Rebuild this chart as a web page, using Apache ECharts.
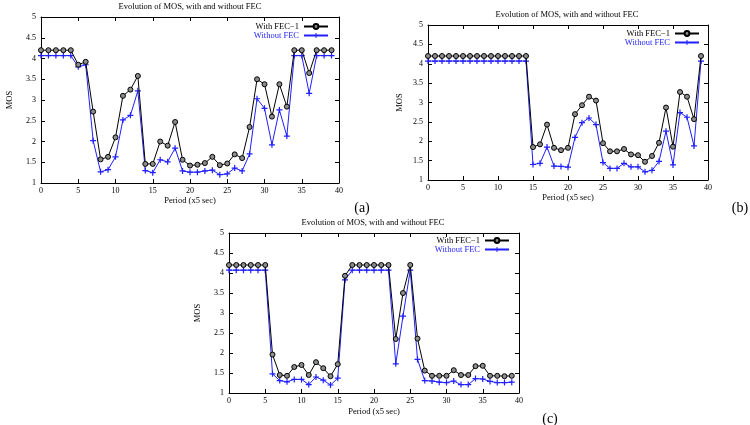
<!DOCTYPE html>
<html>
<head>
<meta charset="utf-8">
<script src="https://cdn.jsdelivr.net/npm/echarts@6/dist/echarts.min.js"></script>
<style>
  html, body { margin: 0; padding: 0; background: #fff; }
  #mos-chart { width: 750px; height: 425px; }
</style>
</head>
<body>
<div id="mos-chart"></div>
<script>
// MOS per period (x5 sec), 40 periods each
const fecA = [4.2, 4.2, 4.2, 4.2, 4.2, 3.85, 3.92, 2.72, 1.57, 1.63,
  2.1, 3.1, 3.25, 3.58, 1.46, 1.46, 2.0, 1.9, 2.47, 1.56,
  1.42, 1.44, 1.48, 1.63, 1.43, 1.47, 1.69, 1.6, 2.35, 3.5,
  3.38, 2.6, 3.38, 2.84, 4.2, 4.2, 3.65, 4.2, 4.2, 4.2]
const noFecA = [4.07, 4.07, 4.07, 4.07, 4.07, 3.8, 3.85, 2.02, 1.27, 1.32,
  1.63, 2.52, 2.63, 3.22, 1.3, 1.25, 1.56, 1.51, 1.84, 1.29,
  1.26, 1.26, 1.29, 1.31, 1.2, 1.22, 1.36, 1.29, 1.7, 3.03,
  2.8, 1.92, 2.76, 2.13, 4.07, 4.07, 3.16, 4.07, 4.07, 4.07]

const fecB = [4.2, 4.2, 4.2, 4.2, 4.2, 4.2, 4.2, 4.2, 4.2, 4.2,
  4.2, 4.2, 4.2, 4.2, 4.2, 1.85, 1.92, 2.43, 1.83, 1.77,
  1.83, 2.7, 2.93, 3.15, 3.05, 1.95, 1.74, 1.74, 1.8, 1.66,
  1.64, 1.47, 1.62, 1.96, 2.87, 1.86, 3.27, 3.15, 2.57, 4.2]
const noFecB = [4.07, 4.07, 4.07, 4.07, 4.07, 4.07, 4.07, 4.07, 4.07, 4.07,
  4.07, 4.07, 4.07, 4.07, 4.07, 1.4, 1.43, 1.85, 1.36, 1.35,
  1.33, 2.1, 2.48, 2.6, 2.43, 1.45, 1.3, 1.3, 1.43, 1.34,
  1.34, 1.21, 1.25, 1.48, 2.26, 1.39, 2.74, 2.62, 1.88, 4.07]

const fecC = [4.2, 4.2, 4.2, 4.2, 4.2, 4.2, 1.96, 1.45, 1.43, 1.65,
  1.7, 1.45, 1.77, 1.62, 1.42, 1.72, 3.93, 4.2, 4.2, 4.2,
  4.2, 4.2, 4.2, 2.35, 3.5, 4.2, 2.36, 1.56, 1.43, 1.43,
  1.43, 1.57, 1.45, 1.45, 1.67, 1.68, 1.43, 1.43, 1.42, 1.43]
const noFecC = [4.07, 4.07, 4.07, 4.07, 4.07, 4.07, 1.48, 1.31, 1.28, 1.34,
  1.34, 1.21, 1.4, 1.32, 1.2, 1.37, 3.83, 4.07, 4.07, 4.07,
  4.07, 4.07, 4.07, 1.73, 2.92, 4.07, 1.84, 1.31, 1.3, 1.27,
  1.26, 1.3, 1.21, 1.21, 1.36, 1.35, 1.29, 1.26, 1.26, 1.27]

const seriesNames = ['With FEC\u22121', 'Without FEC']
const panelTitle = 'Evolution of MOS, with and without FEC'
const xName = 'Period (x5 sec)'
const yName = 'MOS'
const panelLetters = ['(a)', '(b)', '(c)']

const FONT = '"Liberation Serif", "DejaVu Serif", serif'
const BLUE = '#1f1fff'
const PLUS = 'path://M4,0H6V4H10V6H6V10H4V6H0V4H4Z'

// panel boxes: plot area in pixels
const panels = [
  { left: 41, top: 17, width: 298, height: 166, data: [fecA, noFecA], yGap: 27, xGap: 13,
    title: [190, 7], legend: { right: 421, top: 22 }, letter: [362, 208] },
  { left: 428, top: 25, width: 280, height: 155, data: [fecB, noFecB], yGap: 24, xGap: 12,
    title: [567, 15], legend: { right: 50, top: 29 }, letter: [740, 208] },
  { left: 229, top: 233, width: 290, height: 160, data: [fecC, noFecC], yGap: 27, xGap: 14,
    title: [373, 223], legend: { right: 240, top: 236 }, letter: [550, 419] }
]

const toPoints = arr => arr.map((v, i) => [i, v])

const grid = [], xAxis = [], yAxis = [], series = [], legend = [], graphic = []

panels.forEach((p, k) => {
  grid.push({ left: p.left, top: p.top, width: p.width, height: p.height, containLabel: false })
  const axisLine = { show: true, onZero: false, lineStyle: { color: '#000', width: 1 } }
  const axisTick = { show: true, inside: true, length: 4, lineStyle: { color: '#000' } }
  xAxis.push({
    gridIndex: k, type: 'value', min: 0, max: 40, interval: 5, position: 'bottom',
    axisLine, axisTick, splitLine: { show: false },
    axisLabel: { color: '#000', fontFamily: FONT, fontSize: 8, margin: 4 },
    name: xName, nameLocation: 'middle', nameGap: p.xGap,
    nameTextStyle: { color: '#000', fontFamily: FONT, fontSize: 8.5 }
  })
  xAxis.push({
    gridIndex: k, type: 'value', min: 0, max: 40, interval: 5, position: 'top',
    axisLine, axisTick, axisLabel: { show: false }, splitLine: { show: false }
  })
  yAxis.push({
    gridIndex: k, type: 'value', min: 1, max: 5, interval: 0.5, position: 'left',
    axisLine, axisTick, splitLine: { show: false },
    axisLabel: { color: '#000', fontFamily: FONT, fontSize: 8, margin: 5 },
    name: yName, nameLocation: 'middle', nameGap: p.yGap, nameRotate: 90,
    nameTextStyle: { color: '#000', fontFamily: FONT, fontSize: 8.5 }
  })
  yAxis.push({
    gridIndex: k, type: 'value', min: 1, max: 5, interval: 0.5, position: 'right',
    axisLine, axisTick, axisLabel: { show: false }, splitLine: { show: false }
  })

  series.push({
    name: seriesNames[0], type: 'line', xAxisIndex: 2 * k, yAxisIndex: 2 * k,
    data: toPoints(p.data[0]), symbol: 'circle', symbolSize: 5, showAllSymbol: true,
    lineStyle: { color: '#000', width: 1 },
    itemStyle: { color: '#8c8c8c', borderColor: '#000', borderWidth: 1 },
    emphasis: { disabled: true }, animation: false, z: 3
  })
  series.push({
    name: seriesNames[1], type: 'line', xAxisIndex: 2 * k, yAxisIndex: 2 * k,
    data: toPoints(p.data[1]), symbol: PLUS, symbolSize: 6, showAllSymbol: true,
    lineStyle: { color: BLUE, width: 1 },
    itemStyle: { color: BLUE, borderWidth: 0 },
    emphasis: { disabled: true }, animation: false, z: 2
  })

  legend.push({
    orient: 'vertical', align: 'right', right: p.legend.right, top: p.legend.top,
    itemWidth: 24, itemHeight: 6, itemGap: 0, padding: 0, selectedMode: false,
    textStyle: { fontFamily: FONT, fontSize: 8.5, lineHeight: 7 },
    data: [
      { name: seriesNames[0], textStyle: { color: '#000' } },
      { name: seriesNames[1], textStyle: { color: BLUE } }
    ]
  })

  graphic.push({
    type: 'text', x: p.title[0], y: p.title[1],
    style: { text: panelTitle, fill: '#000', font: '8.5px ' + FONT, textAlign: 'center', textVerticalAlign: 'middle' }
  })
  graphic.push({
    type: 'text', x: p.letter[0], y: p.letter[1],
    style: { text: panelLetters[k], fill: '#000', font: '14px ' + FONT, textAlign: 'center', textVerticalAlign: 'middle' }
  })
})

const chart = echarts.init(document.getElementById('mos-chart'), null, { renderer: 'canvas' })
chart.setOption({
  backgroundColor: '#fff',
  animation: false,
  grid, xAxis, yAxis, series, legend, graphic
})
</script>
</body>
</html>
